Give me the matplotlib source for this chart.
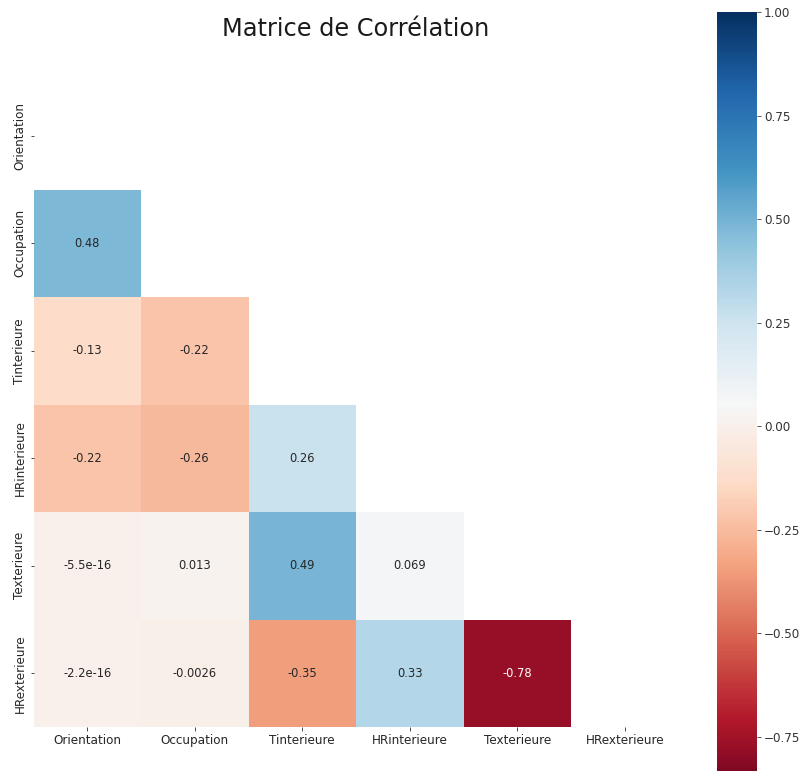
import numpy as np
import pandas as pd
import matplotlib
matplotlib.use('Agg')
import matplotlib.pyplot as plt
import seaborn as sns

# variables de la matrice
variables = ["Orientation", "Occupation", "Tinterieure", "HRinterieure", "Texterieure", "HRexterieure"]

# triangle inferieur, ligne par ligne
row_occupation = [0.48]
row_tint = [-0.13, -0.22]
row_hrint = [-0.22, -0.26, 0.26]
row_text = [-5.5e-16, 0.013, 0.49, 0.069]
row_hrext = [-2.2e-16, -0.0026, -0.35, 0.33, -0.78]

lower_rows = [[], row_occupation, row_tint, row_hrint, row_text, row_hrext]

n = len(variables)
corr = np.eye(n)
for i, row in enumerate(lower_rows):
    for j, v in enumerate(row):
        corr[i, j] = v
        corr[j, i] = v
corr = pd.DataFrame(corr, index=variables, columns=variables)

mask = np.triu(np.ones_like(corr, dtype=bool))

fig = plt.figure(figsize=(803 / 72, 771 / 72), dpi=72)
ax = fig.add_axes([33.5 / 803, (771 - 727) / 771, 645 / 803, 645 / 771])
cax = fig.add_axes([717 / 803, (771 - 799) / 771, 40 / 803, 787 / 771])

sns.heatmap(corr, mask=mask, annot=True, cmap='RdBu', vmin=-0.9, vmax=1.0,
            ax=ax, cbar_ax=cax, annot_kws={'fontsize': 11.5})

ax.tick_params(labelsize=12, labelcolor='#262626', color='#262626')
plt.setp(ax.get_xticklabels(), rotation=0)
plt.setp(ax.get_yticklabels(), rotation=90, va='center')
cax.tick_params(labelsize=12, labelcolor='#333333', color='#333333')

ax.set_title('Matrice de Corrélation', fontsize=24, pad=46, color='#1a1a1a')

fig.savefig('out.png', dpi=72)
